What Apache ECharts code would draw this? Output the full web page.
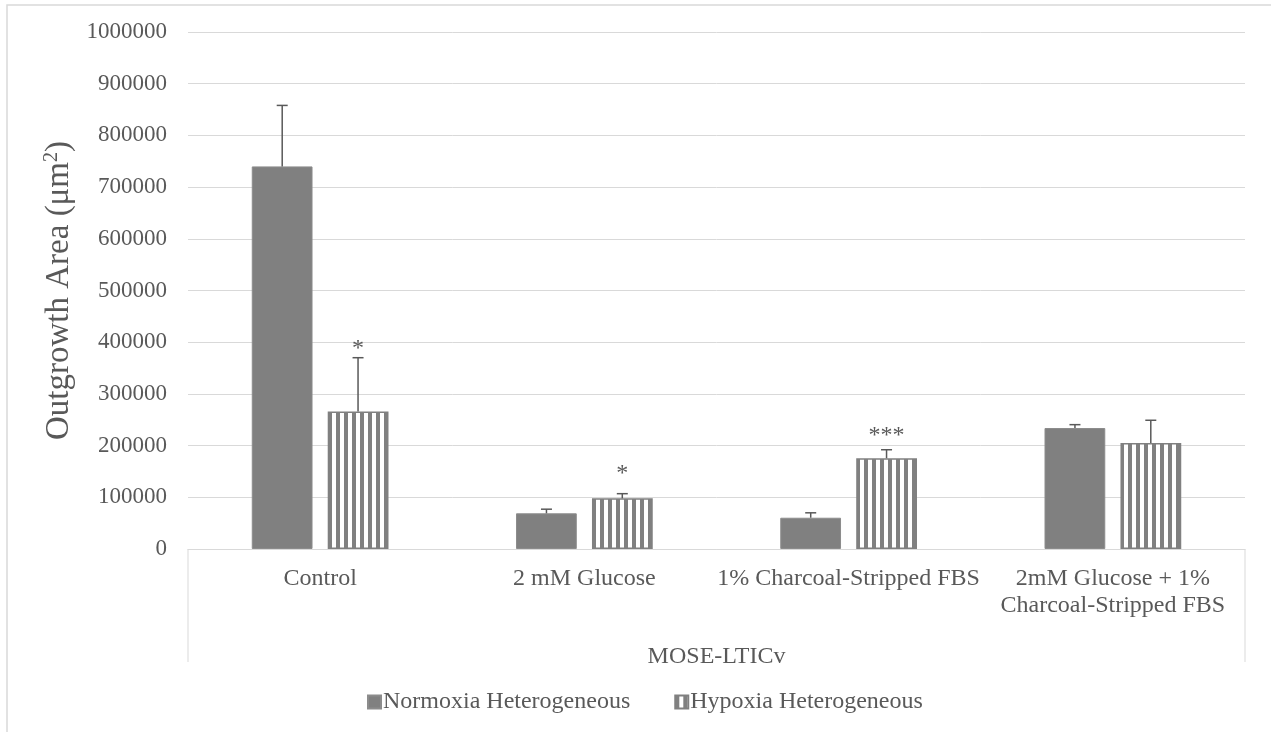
<!DOCTYPE html>
<html>
<head>
<meta charset="utf-8">
<script src="https://cdn.jsdelivr.net/npm/echarts@6/dist/echarts.min.js"></script>
<style>html,body{margin:0;padding:0;background:#fff}#c{width:1271px;height:732px}</style>
</head>
<body>
<div id="c"></div>
<script>
const categories = ['Control', '2 mM Glucose', '1% Charcoal-Stripped FBS', '2mM Glucose + 1%\nCharcoal-Stripped FBS'];
const groupName = 'MOSE-LTICv';
const seriesNames = ['Normoxia Heterogeneous', 'Hypoxia Heterogeneous'];
const normoxia = [740000, 69000, 60500, 234000];
const normoxiaErr = [118000, 8000, 9500, 6500];
const hypoxia = [266000, 98000, 175500, 205000];
const hypoxiaErr = [104000, 9000, 16500, 44000];
const sigLabels = ['*', '*', '***', ''];
const sigPos = [388000, 145000, 220000, null];
const yTicks = [0, 100000, 200000, 300000, 400000, 500000, 600000, 700000, 800000, 900000, 1000000];

const FONT = '"Liberation Serif", "Times New Roman", serif';
const TXT = '#595959';
const GRID = { left: 188, right: 26, top: 32, bottom: 183 };

// stripe pattern
const pc = document.createElement('canvas');
pc.width = 8; pc.height = 8;
const pctx = pc.getContext('2d');
pctx.fillStyle = '#ffffff'; pctx.fillRect(0, 0, 8, 8);
pctx.fillStyle = '#808080'; pctx.fillRect(0, 0, 4, 8);
const stripe = { image: pc, repeat: 'repeat' };

const chart = echarts.init(document.getElementById('c'), null, { renderer: 'canvas' });

function errItem(dir) {
  return function (params, api) {
    const i = api.value(0);
    const base = api.coord([i, api.value(1)]);
    const top = api.coord([i, api.value(1) + api.value(2)]);
    const band = api.size([1, 0])[0];
    const x = base[0] + dir * band * 0.1435;
    const style = { stroke: '#595959', lineWidth: 1.5 };
    return {
      type: 'group',
      children: [
        { type: 'line', shape: { x1: x, y1: base[1], x2: x, y2: top[1] }, style: style },
        { type: 'line', shape: { x1: x - 5.5, y1: top[1], x2: x + 5.5, y2: top[1] }, style: style }
      ]
    };
  };
}

function sigItem(dir) {
  return function (params, api) {
    const i = api.value(0);
    const p = api.coord([i, api.value(1)]);
    const band = api.size([1, 0])[0];
    const x = p[0] + dir * band * 0.1435;
    return {
      type: 'text',
      x: x, y: p[1],
      style: { text: sigLabels[i], font: '24px ' + FONT, fill: TXT, align: 'center', verticalAlign: 'middle' }
    };
  };
}

const option = {
  animation: false,
  backgroundColor: '#ffffff',
  grid: GRID,
  legend: {
    data: seriesNames,
    left: 362, top: 685,
    itemWidth: 13, itemHeight: 13, itemGap: 44,
    icon: 'rect',
    textStyle: { fontFamily: FONT, fontSize: 24, color: TXT, padding: [0, 0, 0, -3] }
  },
  xAxis: {
    type: 'category',
    data: categories,
    name: groupName,
    nameLocation: 'middle',
    nameGap: 96,
    nameTextStyle: { fontFamily: FONT, fontSize: 24, color: TXT },
    axisLine: { show: true, lineStyle: { color: '#d9d9d9', width: 1 } },
    axisTick: { show: false },
    axisLabel: { fontFamily: FONT, fontSize: 24, color: TXT, margin: 16, lineHeight: 27, verticalAlign: 'top', interval: 0 }
  },
  yAxis: {
    type: 'value',
    min: 0, max: 1000000, interval: 100000,
    name: 'Outgrowth Area (μm{sup|2})',
    nameLocation: 'middle',
    nameGap: 110,
    nameTextStyle: {
      fontFamily: FONT, fontSize: 33, color: TXT,
      rich: { sup: { fontFamily: FONT, fontSize: 20, color: TXT, verticalAlign: 'top', padding: [0, 0, 14, 0] } }
    },
    axisLine: { show: false },
    axisTick: { show: false },
    axisLabel: { fontFamily: FONT, fontSize: 23, color: TXT, margin: 21,
      formatter: function (v) { return yTicks.indexOf(v) >= 0 ? String(v) : ''; } },
    splitLine: { lineStyle: { color: '#d9d9d9', width: 1 } }
  },
  series: [
    {
      name: seriesNames[0], type: 'bar', data: normoxia,
      barWidth: '23%', barGap: '25%',
      itemStyle: { color: '#808080', borderColor: '#8c8c8c', borderWidth: 1 }
    },
    {
      name: seriesNames[1], type: 'bar', data: hypoxia,
      barWidth: '23%',
      itemStyle: { color: stripe, borderColor: '#808080', borderWidth: 1.5 }
    },
    {
      type: 'custom', name: 'errN', renderItem: errItem(-1),
      data: normoxia.map((v, i) => [i, v, normoxiaErr[i]]), z: 5, silent: true
    },
    {
      type: 'custom', name: 'errH', renderItem: errItem(1),
      data: hypoxia.map((v, i) => [i, v, hypoxiaErr[i]]), z: 5, silent: true
    },
    {
      type: 'custom', name: 'sig', renderItem: sigItem(1),
      data: sigPos.map((v, i) => [i, v]).filter(d => d[1] != null), z: 6, silent: true
    }
  ],
  graphic: [
    { type: 'rect', shape: { x: 7, y: 5, width: 1300, height: 800 }, style: { fill: 'none', stroke: '#d9d9d9', lineWidth: 1.5 }, silent: true, z: -1 },
    { type: 'line', shape: { x1: GRID.left, y1: 732 - GRID.bottom, x2: GRID.left, y2: 662 }, style: { stroke: '#d9d9d9', lineWidth: 1 } },
    { type: 'line', shape: { x1: 1271 - GRID.right, y1: 732 - GRID.bottom, x2: 1271 - GRID.right, y2: 662 }, style: { stroke: '#d9d9d9', lineWidth: 1 } }
  ]
};
chart.setOption(option);
</script>
</body>
</html>
